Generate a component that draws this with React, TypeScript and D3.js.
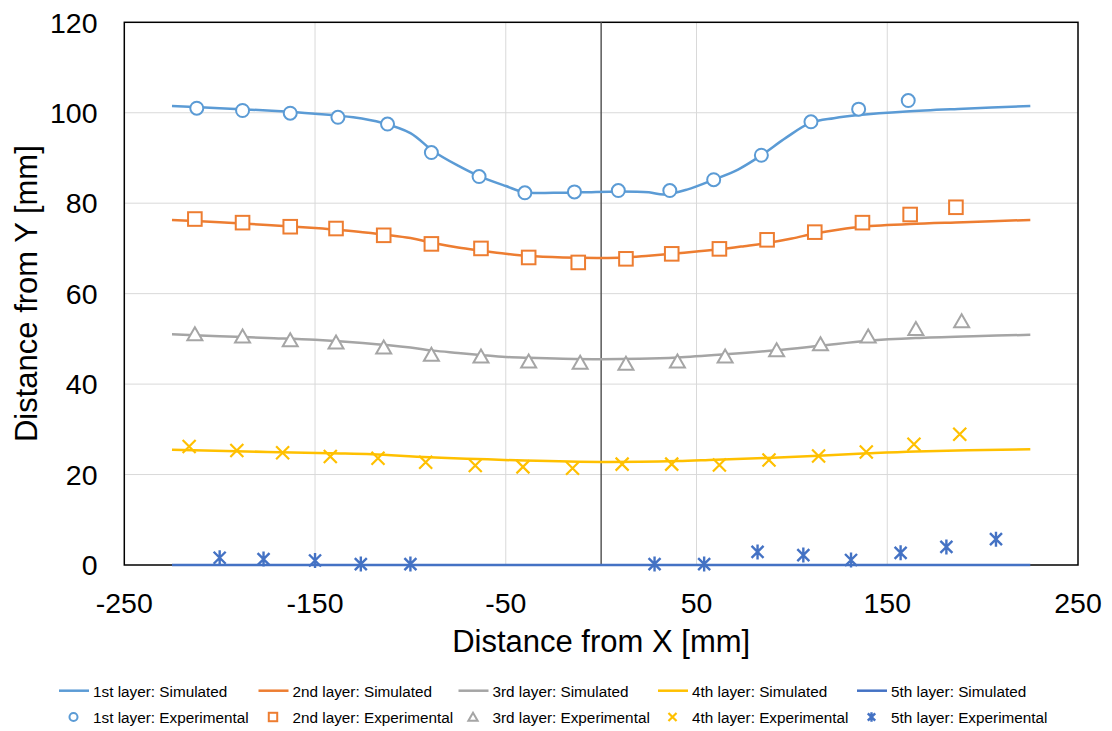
import React from 'react';
import * as d3 from 'd3';

// simulated profiles: [distance from X, distance from Y]
const sim1: [number, number][] = [
  [-225, 101.5], [-200, 101.0], [-175, 100.5], [-150, 99.8], [-130, 99.0], [-115, 97.8],
  [-100, 95.5], [-88, 91.5], [-75, 88.3], [-64, 86.0], [-50, 83.8], [-40, 82.4],
  [-25, 82.3], [-10, 82.4], [10, 82.6], [25, 82.4], [33, 81.9], [45, 83.0], [59, 85.2],
  [72, 87.5], [84, 90.6], [97, 94.5], [110, 97.8], [122, 98.8], [135, 99.5],
  [160, 100.3], [190, 100.9], [225, 101.5],
];
const sim2: [number, number][] = [
  [-225, 76.3], [-200, 75.8], [-175, 75.2], [-150, 74.5], [-125, 73.6], [-100, 72.3],
  [-88, 71.2], [-75, 70.2], [-63, 69.5], [-50, 68.8], [-38, 68.3], [-20, 68.0], [0, 67.9],
  [12, 68.0], [25, 68.4], [37, 68.8], [50, 69.3], [62, 69.8], [75, 70.5], [87, 71.2],
  [100, 72.2], [112, 73.3], [125, 74.2], [137, 74.8], [162, 75.4], [190, 75.8], [225, 76.3],
];
const sim3: [number, number][] = [
  [-225, 51.0], [-200, 50.6], [-175, 50.2], [-150, 49.8], [-125, 49.1], [-100, 48.1],
  [-88, 47.4], [-75, 46.9], [-62, 46.4], [-50, 46.0], [-38, 45.8], [-20, 45.6], [0, 45.5],
  [20, 45.6], [40, 45.9], [65, 46.6], [92, 47.5], [115, 48.5], [140, 49.6], [165, 50.2],
  [195, 50.6], [225, 50.9],
];
const sim4: [number, number][] = [
  [-225, 25.5], [-175, 25.0], [-142, 24.7], [-120, 24.5], [-90, 23.8], [-40, 23.1],
  [0, 22.8], [40, 23.0], [60, 23.3], [90, 23.7], [140, 24.7], [165, 25.1], [225, 25.6],
];
const sim5: [number, number][] = [[-225, 0], [0, 0], [225, 0]];

// experimental points
const exp1: [number, number][] = [
  [-212, 101.0], [-188, 100.5], [-163, 99.9], [-138, 99.0], [-112, 97.5], [-89, 91.2],
  [-64, 85.9], [-40, 82.3], [-14, 82.5], [9, 82.8], [36, 82.8], [59, 85.2], [84, 90.6],
  [110, 98.0], [135, 100.8], [161, 102.7],
];
const exp2: [number, number][] = [
  [-213, 76.5], [-188, 75.7], [-163, 74.8], [-139, 74.4], [-114, 72.9], [-89, 71.0],
  [-63, 70.0], [-38, 68.0], [-12, 66.9], [13, 67.7], [37, 68.8], [62, 69.9], [87, 71.9],
  [112, 73.6], [137, 75.7], [162, 77.5], [186, 79.1],
];
const exp3: [number, number][] = [
  [-213, 51.0], [-188, 50.5], [-163, 49.7], [-139, 49.2], [-114, 48.1], [-89, 46.5],
  [-63, 46.1], [-38, 45.0], [-11, 44.7], [13, 44.5], [40, 45.0], [65, 46.1], [92, 47.5],
  [115, 48.8], [140, 50.5], [165, 52.2], [189, 53.9],
];
const exp4: [number, number][] = [
  [-216, 26.2], [-191, 25.3], [-167, 24.8], [-142, 24.0], [-117, 23.6], [-92, 22.7],
  [-66, 22.0], [-41, 21.7], [-15, 21.4], [11, 22.3], [37, 22.3], [62, 22.1], [88, 23.2],
  [114, 24.1], [139, 25.0], [164, 26.7], [188, 28.9],
];
const exp5: [number, number][] = [
  [-200, 1.6], [-177, 1.3], [-150, 1.0], [-126, 0.2], [-100, 0.2], [28, 0.2], [54, 0.2],
  [82, 2.9], [106, 2.2], [131, 1.1], [157, 2.7], [181, 4.0], [207, 5.7],
];

const xTicks = [-250, -150, -50, 50, 150, 250];
const yTicks = [0, 20, 40, 60, 80, 100, 120];
const layerNames = ['1st layer', '2nd layer', '3rd layer', '4th layer', '5th layer'];
const colors = ['#5B9BD5', '#ED7D31', '#A5A5A5', '#FFC000', '#4472C4'];
const markerKinds = ['circle', 'square', 'triangle', 'x', 'star'];

const W = 1112;
const H = 731;
const left = 124.3, right = 1078, top = 22.3, bottom = 565;
const font = "'Liberation Sans', Arial, sans-serif";

const Marker = ({ kind, x, y, color, s = 1 }: { kind: string; x: number; y: number; color: string; s?: number }) => {
  const sw = 2;
  if (kind === 'circle') {
    return <circle cx={x} cy={y} r={6.5 * s} fill="#fff" stroke={color} strokeWidth={sw} />;
  }
  if (kind === 'square') {
    const h = 6.8 * s;
    return <rect x={x - h} y={y - h} width={2 * h} height={2 * h} fill="#fff" stroke={color} strokeWidth={sw} />;
  }
  if (kind === 'triangle') {
    const p = [[0, -7], [7.5, 6], [-7.5, 6]].map(([a, b]) => `${x + a * s},${y + b * s}`).join(' ');
    return <polygon points={p} fill="#fff" stroke={color} strokeWidth={sw} />;
  }
  if (kind === 'x') {
    const h = 6.5 * s;
    return (
      <path d={`M${x - h},${y - h}L${x + h},${y + h}M${x - h},${y + h}L${x + h},${y - h}`}
        stroke={color} strokeWidth={2.2} fill="none" />
    );
  }
  const h = 6 * s;
  const v = 7.5 * s;
  return (
    <path d={`M${x - h},${y - h}L${x + h},${y + h}M${x - h},${y + h}L${x + h},${y - h}M${x},${y - v}L${x},${y + v}`}
      stroke={color} strokeWidth={2.4} fill="none" />
  );
};

export default function App() {
  const x = d3.scaleLinear().domain([-250, 250]).range([left, right]);
  const y = d3.scaleLinear().domain([0, 120]).range([bottom, top]);

  const line = d3.line<[number, number]>()
    .x(d => x(d[0]))
    .y(d => y(d[1]))
    .curve(d3.curveCatmullRom.alpha(0.5));

  const sims = [sim1, sim2, sim3, sim4, sim5];
  const exps = [exp1, exp2, exp3, exp4, exp5];
  const legendX = [59, 258.5, 458.5, 658, 857];

  return (
    <svg width={W} height={H} style={{ position: 'absolute', left: 0, top: 0, background: '#fff' }}
      fontFamily={font}>
      {/* gridlines */}
      {yTicks.slice(1, -1).map(t => (
        <line key={'gy' + t} x1={left} x2={right} y1={y(t)} y2={y(t)} stroke="#D9D9D9" strokeWidth={1} />
      ))}
      {xTicks.slice(1, -1).map(t => (
        <line key={'gx' + t} x1={x(t)} x2={x(t)} y1={top} y2={bottom} stroke="#D9D9D9" strokeWidth={1} />
      ))}
      {/* plot border */}
      <rect x={left} y={top} width={right - left} height={bottom - top} fill="none" stroke="#000" strokeWidth={1.5} />
      {/* vertical axis at x = 0 */}
      <line x1={x(0)} x2={x(0)} y1={top} y2={bottom} stroke="#595959" strokeWidth={1.5} />

      {/* tick labels */}
      {yTicks.map(t => (
        <text key={'ty' + t} x={97.5} y={y(t)} dy="0.36em" textAnchor="end" fontSize={28.5} fill="#000">{t}</text>
      ))}
      {xTicks.map(t => (
        <text key={'tx' + t} x={x(t)} y={bottom + 48} textAnchor="middle" fontSize={28.5} fill="#000">{t}</text>
      ))}

      {/* axis titles */}
      <text x={(left + right) / 2} y={652} textAnchor="middle" fontSize={31} fill="#000">Distance from X [mm]</text>
      <text transform={`translate(37,${(top + bottom) / 2}) rotate(-90)`} textAnchor="middle" fontSize={31} fill="#000">
        Distance from Y [mm]
      </text>

      {/* simulated lines */}
      {sims.map((s, i) => (
        <path key={'s' + i} d={line(s) || ''} fill="none" stroke={colors[i]} strokeWidth={2.5} />
      ))}

      {/* experimental markers */}
      {exps.map((e, i) => (
        <g key={'e' + i}>
          {e.map((d, j) => (
            <Marker key={j} kind={markerKinds[i]} x={x(d[0])} y={y(d[1])} color={colors[i]} />
          ))}
        </g>
      ))}

      {/* legend */}
      {layerNames.map((name, i) => (
        <g key={'l' + i}>
          <line x1={legendX[i]} x2={legendX[i] + 30} y1={690.7} y2={690.7} stroke={colors[i]} strokeWidth={2.5} />
          <text x={legendX[i] + 34} y={697} fontSize={15.3} fill="#000">{name}: Simulated</text>
          <Marker kind={markerKinds[i]} x={legendX[i] + 14.5} y={717} color={colors[i]} s={0.62} />
          <text x={legendX[i] + 34} y={723} fontSize={15.3} fill="#000">{name}: Experimental</text>
        </g>
      ))}
    </svg>
  );
}
